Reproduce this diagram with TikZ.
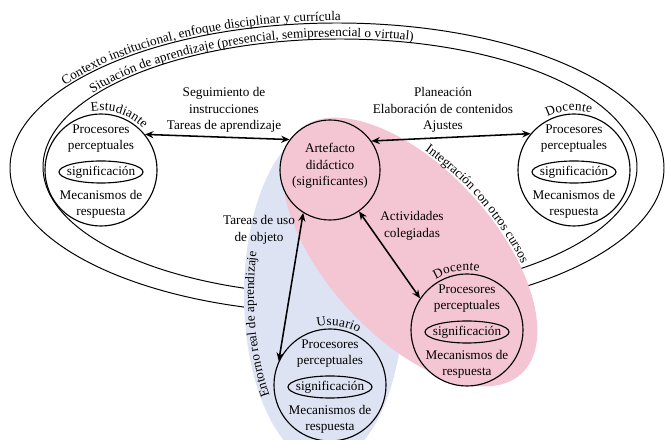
\documentclass[tikz,border=0pt]{standalone}
\usepackage{fontspec}
\setmainfont{Liberation Serif}
\usetikzlibrary{arrows.meta,decorations.text}
\newcommand{\diagfont}{\fontsize{9.4}{11.7}\selectfont}
\definecolor{rosa}{RGB}{244,198,212}
\definecolor{azul}{RGB}{221,227,243}

\begin{document}
\begin{tikzpicture}[x=0.025cm,y=0.025cm,
    every node/.style={font=\diagfont},
    persona/.style={draw,circle,line width=0.8pt,inner sep=0pt,minimum size=2.8cm},
    flecha/.style={line width=1.1pt,{Stealth[length=6pt,width=5pt]}-{Stealth[length=6pt,width=5pt]}},
    marco/.style={line width=0.7pt}]
    \clip (0,0) rectangle (665,440);
    % contexto y situacion
    \draw[marco] (337,272) ellipse [x radius=327, y radius=145];
    \draw[marco] (340,273) ellipse [x radius=297, y radius=128];
    \path[decorate,decoration={text along path,text align=left,raise=1.5pt,
        text={|\diagfont|Contexto institucional, enfoque disciplinar y currícula}}]
        (337,272) ++(146:327 and 145) arc[start angle=146,end angle=40,x radius=327,y radius=145];
    \path[decorate,decoration={text along path,text align=left,raise=1.5pt,
        text={|\diagfont|Situación de aprendizaje (presencial, semipresencial o virtual)}}]
        (340,273) ++(146:297 and 128) arc[start angle=146,end angle=30,x radius=297,y radius=128];
    % entornos
    \fill[azul] (324,145) ellipse [x radius=80, y radius=168];
    \fill[rosa,rotate around={-47.6:(410,188)}] (410,188) ellipse [x radius=165, y radius=84];
    \path[decorate,decoration={text along path,text align=center,
        text={|\diagfont|Entorno real de aprendizaje}}]
        (324,145) ++(233:70 and 160) arc[start angle=233,end angle=153,x radius=70,y radius=160];
    \begin{scope}[shift={(410,188)},rotate=-47.6]
        \path[decorate,decoration={text along path,text align=left,raise=1.5pt,
            text={|\diagfont|Integración con otros cursos}}]
            (113:165 and 84) arc[start angle=113,end angle=20,x radius=165,y radius=84];
    \end{scope}
    % artefacto
    \node[persona,fill=rosa,minimum size=2.5cm] (art) at (330,270) {};
    \node[align=center] (art-txt) at (330,274) {Artefacto\\didáctico\\(significantes)};
    % sujetos
    \foreach \nm/\x/\y/\col in {est/101/270/none,docr/574/270/none,docb/467/110/rosa,usu/330/55/azul}{
        \node[persona,fill=\col] (\nm) at (\x,\y) {};
        \node[align=center] (\nm-in) at (\x,\y+31.5) {Procesores\\perceptuales};
        \node (\nm-sig) at (\x,\y-2) {significación};
        \draw[line width=0.8pt] (\nm-sig.center) ellipse [x radius=42, y radius=11];
        \node[align=center] (\nm-out) at (\x,\y-34.5) {Mecanismos de\\respuesta};
    }
    \path[decorate,decoration={text along path,text align=center,raise=1pt,text={|\diagfont|Estudiante}}]
        (est.center) ++(132:58) arc[start angle=132,end angle=12,radius=58];
    \path[decorate,decoration={text along path,text align=center,raise=1pt,text={|\diagfont|Docente}}]
        (docr.center) ++(155:58) arc[start angle=155,end angle=35,radius=58];
    \path[decorate,decoration={text along path,text align=center,raise=1pt,text={|\diagfont|Docente}}]
        (docb.center) ++(160:58) arc[start angle=160,end angle=40,radius=58];
    \path[decorate,decoration={text along path,text align=center,raise=1pt,text={|\diagfont|Usuario}}]
        (usu.center) ++(142:58) arc[start angle=142,end angle=22,radius=58];
    % relaciones
    \draw[flecha] (est.39) -- (art.143);
    \draw[flecha] (art.35) -- (docr.140);
    \draw[flecha] (art.-55) -- (docb.146);
    \draw[flecha] (art.-122) -- (usu.155);
    \node[align=center] (seg) at (224,330) {Seguimiento de\\instrucciones\\Tareas de aprendizaje};
    \node[align=center] (plan) at (443,330) {Planeación\\Elaboración de contenidos\\Ajustes};
    \node[align=center] (act) at (412,214) {Actividades\\colegiadas};
    \node[align=center] (uso) at (259,210) {Tareas de uso\\de objeto};
\end{tikzpicture}
\end{document}
